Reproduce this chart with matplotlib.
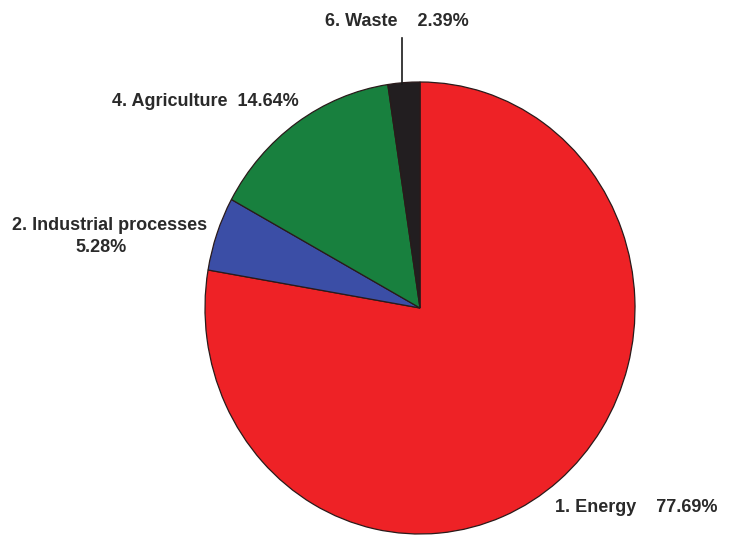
import matplotlib
matplotlib.use("Agg")
import matplotlib.pyplot as plt

sectors = ["1. Energy", "2. Industrial processes", "4. Agriculture", "6. Waste"]
shares = [77.69, 5.28, 14.64, 2.39]
colors = ["#ee2226", "#3b4ea6", "#18803e", "#221e20"]

plt.rcParams["font.family"] = ["Liberation Sans", "DejaVu Sans"]

fig = plt.figure(figsize=(7.34, 5.36), dpi=100)
W, H = 734, 536
# pie box in pixels: center (420, 308), rx 215, ry 226
ax = fig.add_axes([205 / W, (536 - 534) / H, 430 / W, 452 / H])
ax.pie(shares, colors=colors, startangle=90, counterclock=False,
       wedgeprops=dict(edgecolor="#2a1a1a", linewidth=0.9))
ax.set_aspect("auto")
ax.set_xlim(-1, 1)
ax.set_ylim(-1, 1)
for p in ax.patches:
    p.set_clip_on(False)

def px(x, y):
    return x / W, 1 - y / H

tk = dict(fontsize=13, fontweight="bold", color="#2a2a2a", va="center")
fig.text(*px(325, 21), "6. Waste    " + f"{shares[3]:.2f}%", ha="left", **tk)
fig.text(*px(112, 101), sectors[2] + "  " + f"{shares[2]:.2f}%", ha="left", **tk)
fig.text(*px(12, 225), sectors[1], ha="left", **tk)
fig.text(*px(75, 248), f"{shares[1]:.2f}%", ha="left", **tk)
fig.text(*px(555, 508), sectors[0] + "    " + f"{shares[0]:.2f}%", ha="left", **tk)

# leader line for Waste
fig.add_artist(plt.Line2D([402 / W, 402 / W], [1 - 38 / H, 1 - 84 / H],
                          color="#1a1a1a", linewidth=1.2))

fig.savefig("out.png", dpi=100, facecolor="white")
